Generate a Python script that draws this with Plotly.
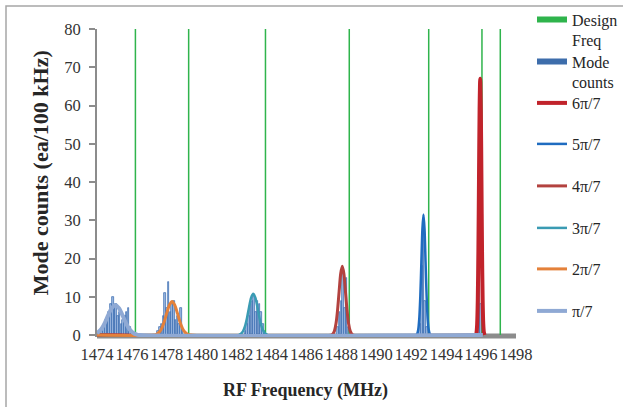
import plotly.graph_objects as go

# ---------------- data ----------------
design_freq = [1476.2, 1479.25, 1483.65, 1488.45, 1493.0, 1496.05, 1497.1]
design_top = 80

bin_freq = [1474.3, 1474.4, 1474.5, 1474.6, 1474.7, 1474.8, 1474.9, 1475.0, 1475.1, 1475.2,
            1475.3, 1475.4, 1475.5, 1475.6, 1475.7, 1475.8, 1475.9,
            1477.5, 1477.6, 1477.7, 1477.8, 1477.9, 1478.0, 1478.1, 1478.2, 1478.3,
            1478.4, 1478.5, 1478.6, 1478.7, 1478.8, 1478.9,
            1482.5, 1482.6, 1482.7, 1482.8, 1482.9, 1483.0, 1483.1, 1483.2, 1483.3,
            1483.4, 1483.5, 1483.6,
            1487.8, 1487.9, 1488.0, 1488.1, 1488.2, 1488.3, 1488.4,
            1492.5, 1492.6, 1492.7, 1492.8, 1492.9,
            1495.8, 1495.9, 1496.0]
bin_counts = [1, 2, 4, 5, 6, 8, 10, 7, 8, 5,
              6, 3, 4, 5, 6, 7, 2,
              1, 2, 3, 5, 11, 7, 14, 6, 8,
              9, 4, 5, 3, 7, 2,
              1, 3, 5, 8, 9, 10, 6, 9, 8,
              6, 3, 1,
              2, 6, 9, 16, 7, 15, 2,
              3, 18, 30, 9, 2,
              3, 60, 8]

# fitted mode curves
m1_x = [1474.0, 1474.05, 1474.25, 1474.45, 1474.65, 1474.85, 1475.05, 1475.25, 1475.45,
        1475.65, 1475.85, 1476.05, 1476.25, 1476.45, 1496.1]
m1_y = [0.5, 0.67, 1.6, 3.2, 5.3, 7.1, 7.8, 7.1, 5.3, 3.2, 1.6, 0.67, 0.2, 0.0, 0.0]

m2_x = [1474.0, 1477.25, 1477.4, 1477.55, 1477.7, 1477.85, 1478.0, 1478.15, 1478.3,
        1478.45, 1478.6, 1478.75, 1478.9, 1479.05, 1479.2, 1479.35, 1496.1]
m2_y = [0.0, 0.0, 0.2, 0.7, 1.7, 3.5, 5.8, 7.9, 8.8, 7.9, 5.8, 3.5, 1.7, 0.7, 0.2, 0.0, 0.0]

m3_x = [1474.0, 1482.11, 1482.23, 1482.35, 1482.47, 1482.59, 1482.71, 1482.83, 1482.95,
        1483.07, 1483.19, 1483.31, 1483.43, 1483.55, 1483.67, 1483.79, 1496.1]
m3_y = [0.0, 0.0, 0.3, 0.9, 2.2, 4.4, 7.3, 9.8, 10.8, 9.8, 7.3, 4.4, 2.2, 0.9, 0.3, 0.0, 0.0]

m4_x = [1474.0, 1487.42, 1487.51, 1487.6, 1487.69, 1487.78, 1487.87, 1487.96, 1488.05,
        1488.14, 1488.23, 1488.32, 1488.41, 1488.5, 1488.59, 1488.68, 1496.1]
m4_y = [0.0, 0.0, 0.3, 1.1, 3.0, 6.6, 11.5, 16.1, 18.0, 16.1, 11.5, 6.6, 3.0, 1.1, 0.3, 0.0, 0.0]

m5_x = [1474.0, 1492.28, 1492.34, 1492.4, 1492.46, 1492.52, 1492.58, 1492.64, 1492.7,
        1492.76, 1492.82, 1492.88, 1492.94, 1493.0, 1493.06, 1493.12, 1496.1]
m5_y = [0.0, 0.0, 0.35, 1.4, 4.3, 10.2, 19.1, 27.8, 31.5, 27.8, 19.1, 10.2, 4.3, 1.4, 0.35, 0.0, 0.0]

m6_x = [1474.0, 1495.705, 1495.74, 1495.775, 1495.81, 1495.845, 1495.88, 1495.915, 1495.95,
        1495.985, 1496.02, 1496.055, 1496.09, 1496.125, 1496.16, 1496.195]
m6_y = [0.0, 0.0, 0.7, 2.9, 9.1, 21.8, 40.7, 59.1, 67.0, 59.1, 40.7, 21.8, 9.1, 2.9, 0.7, 0.0]

x_ticks = list(range(1474, 1499, 2))
y_ticks = list(range(0, 81, 10))

x_title = "RF Frequency (MHz)"
y_title = "Mode counts (ea/100 kHz)"

# ---------------- styles ----------------
FONT = "Liberation Serif, Times New Roman, serif"
C_DESIGN = "#2fb44c"
C_BARS = "#3d6dab"
curves = [
    ("6π/7", m6_x, m6_y, "#c1232b", 4.0),
    ("5π/7", m5_x, m5_y, "#1f6cc0", 2.5),
    ("4π/7", m4_x, m4_y, "#b3423f", 3.0),
    ("3π/7", m3_x, m3_y, "#3a9bb3", 2.5),
    ("2π/7", m2_x, m2_y, "#e4813a", 3.0),
    ("π/7", m1_x, m1_y, "#8fa9d4", 4.0),
]

fig = go.Figure()

# design frequency vertical lines
dx, dy = [], []
for f in design_freq:
    dx += [f, f, None]
    dy += [0, design_top, None]
fig.add_trace(go.Scatter(x=dx, y=dy, mode="lines", line=dict(color=C_DESIGN, width=1.5),
                         showlegend=False, hoverinfo="skip"))
fig.add_trace(go.Scatter(x=[None], y=[None], mode="lines", name="Design<br>Freq",
                         line=dict(color=C_DESIGN, width=6), legend="legend"))

# mode counts histogram
fig.add_trace(go.Bar(x=bin_freq, y=bin_counts, width=0.09,
                     marker=dict(color="#9db8e0", line=dict(color="#3466ad", width=0.7)),
                     showlegend=False))
fig.add_trace(go.Scatter(x=[None], y=[None], mode="lines", name="Mode<br>counts",
                         line=dict(color=C_BARS, width=6), legend="legend2"))

legend_ids = ["legend3", "legend4", "legend5", "legend6", "legend7", "legend8"]
for (name, xs, ys, col, w), lg in zip(curves, legend_ids):
    fig.add_trace(go.Scatter(x=xs, y=ys, mode="lines", name=name,
                             line=dict(color=col, width=w, shape="spline", smoothing=0.8),
                             legend=lg))

# legends: symbol centre y (px)
sym_y = [18, 60, 103, 144, 186, 228, 269, 311]
H = 407
W = 623
legends = {}
for i, cy in enumerate(sym_y):
    key = "legend" if i == 0 else f"legend{i+1}"
    two_line = i < 2
    legends[key] = dict(
        x=532 / W, xref="container", xanchor="left",
        y=1 - (cy + (12 if two_line else 0)) / H, yref="container", yanchor="middle",
        bgcolor="rgba(0,0,0,0)", borderwidth=0,
        font=dict(family=FONT, size=16, color="#262626"),
        valign="top", itemclick=False, itemdoubleclick=False,
    )

# plot area geometry (px)
L, R, T, B = 97, 516, 29, 337.5
pw, ph = R - L, B - T

def px_x(p):
    return (p - L) / pw

def px_y(p):
    return (B - p) / ph

fig.update_layout(
    width=W, height=H,
    margin=dict(l=L, r=W - R, t=T, b=H - B, autoexpand=False),
    paper_bgcolor="white", plot_bgcolor="white",
    font=dict(family=FONT, size=16, color="#333333"),
    bargap=0,
    showlegend=True,
    shapes=[
        # outer chart border
        dict(type="rect", xref="paper", yref="paper",
             x0=px_x(6), x1=px_x(640), y0=px_y(420), y1=px_y(6),
             line=dict(color="#a6a6a6", width=1.5), fillcolor="rgba(0,0,0,0)", layer="below"),
        # thick category-axis line
        dict(type="line", xref="x", yref="paper",
             x0=1474, x1=1498.2, y0=px_y(336.5), y1=px_y(336.5),
             line=dict(color="#8c8c8c", width=5), layer="below"),
    ],
    annotations=[
        dict(text=f"<b>{x_title}</b>", xref="paper", yref="paper",
             x=px_x(305.5), y=px_y(391), xanchor="center", yanchor="middle",
             showarrow=False, font=dict(family=FONT, size=18, color="#262626")),
        dict(text=f"<b>{y_title}</b>", xref="paper", yref="paper", textangle=-90,
             x=px_x(40.5), y=px_y(173), xanchor="center", yanchor="middle",
             showarrow=False, font=dict(family=FONT, size=22, color="#262626")),
    ],
    xaxis=dict(range=[1474, 1498], tickvals=x_ticks, ticktext=[str(t) for t in x_ticks],
               showgrid=False, zeroline=False, showline=False, ticks="",
               tickangle=0, automargin=False,
               ticklabelstandoff=5,
               tickfont=dict(family=FONT, size=16.5, color="#333333")),
    yaxis=dict(range=[-0.5, 80], tickvals=y_ticks, showgrid=False, zeroline=False,
               showline=True, linecolor="#8c8c8c", linewidth=2,
               ticks="outside", ticklen=6, tickwidth=1.5, tickcolor="#8c8c8c",
               automargin=False,
               ticklabelstandoff=5,
               tickfont=dict(family=FONT, size=16.5, color="#333333")),
    **legends,
)

fig.write_html("out.html", config={"displayModeBar": False},
               post_script="document.body.style.margin='0';")
